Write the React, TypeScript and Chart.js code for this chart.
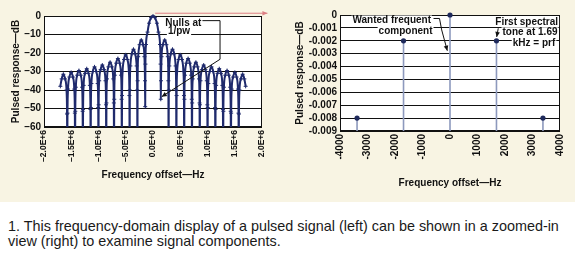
import React, { useEffect, useRef } from 'react';
import { Chart, registerables } from 'chart.js';
Chart.register(...registerables);

const FONT = '"Liberation Sans", Arial, Helvetica, sans-serif';

// ---------- Left chart: pulsed spectrum (kHz, dB) ----------
const spectrumFreqKHz = [
  -1700, -1676, -1645, -1613, -1587, -1577, -1573,
  -1569, -1559, -1533, -1502, -1470, -1444, -1434, -1430,
  -1426, -1416, -1390, -1359, -1327, -1301, -1291, -1287,
  -1283, -1273, -1247, -1216, -1184, -1158, -1148, -1144,
  -1140, -1130, -1104, -1073, -1041, -1015, -1005, -1001,
  -997, -987, -961, -930, -898, -872, -862, -858,
  -854, -844, -818, -787, -755, -729, -719, -715,
  -711, -701, -675, -644, -612, -586, -576, -572,
  -568, -558, -532, -501, -469, -443, -433, -429,
  -425, -415, -389, -358, -326, -300, -290, -286,
  -282, -272, -246, -215, -183, -157, -147, -143,
  -139, -129, -100, -72, -36, 0, 36, 72, 100, 129, 139,
  143,
  147, 157, 183, 215, 246, 272, 282, 286,
  290, 300, 326, 358, 389, 415, 425, 429,
  433, 443, 469, 501, 532, 558, 568, 572,
  576, 586, 612, 644, 675, 701, 711, 715,
  719, 729, 755, 787, 818, 844, 854, 858,
  862, 872, 898, 930, 961, 987, 997, 1001,
  1005, 1015, 1041, 1073, 1104, 1130, 1140, 1144,
  1148, 1158, 1184, 1216, 1247, 1273, 1283, 1287,
  1291, 1301, 1327, 1359, 1390, 1416, 1426, 1430,
  1434, 1444, 1470, 1502, 1533, 1559, 1569, 1573,
  1577, 1587, 1613, 1645, 1676, 1700,
];
const spectrumLevelDb = [
  -38, -34, -31.5, -34, -40, -53, -75,
  -52.5, -39.5, -33, -30.5, -33, -39.5, -52.5, -75,
  -51.5, -38.5, -32, -29.5, -32, -38.5, -51.5, -75,
  -50.5, -37.5, -31, -28.5, -31, -37.5, -50.5, -75,
  -49.5, -36.5, -30, -27.5, -30, -36.5, -49.5, -75,
  -48, -35, -29, -26.5, -29, -35, -48, -75,
  -47, -34, -27.5, -25, -27.5, -34, -47, -75,
  -45, -32, -25.5, -23, -25.5, -32, -45, -75,
  -43, -30, -23.5, -21, -23.5, -30, -43, -75,
  -40, -27, -20.5, -18, -20.5, -27, -40, -75,
  -35, -22, -15.5, -13, -15.5, -22, -35, -49,
  -26, -15.4, -8.7, -3.9, -0.9, 0, -0.9, -3.9, -8.7, -15.4, -26,
  -45,
  -35, -22, -15.5, -13, -15.5, -22, -35, -75,
  -40, -27, -20.5, -18, -20.5, -27, -40, -75,
  -43, -30, -23.5, -21, -23.5, -30, -43, -75,
  -45, -32, -25.5, -23, -25.5, -32, -45, -75,
  -47, -34, -27.5, -25, -27.5, -34, -47, -75,
  -48, -35, -29, -26.5, -29, -35, -48, -75,
  -49.5, -36.5, -30, -27.5, -30, -36.5, -49.5, -75,
  -50.5, -37.5, -31, -28.5, -31, -37.5, -50.5, -75,
  -51.5, -38.5, -32, -29.5, -32, -38.5, -51.5, -75,
  -52.5, -39.5, -33, -30.5, -33, -39.5, -52.5, -75,
  -53, -40, -34, -31.5, -34, -38,
];
const leftXTicks = [-2e6, -1.5e6, -1e6, -5e5, 0, 5e5, 1e6, 1.5e6, 2e6];
const leftXTickLabels = ['–2.0E+6', '–1.5E+6', '–1.0E+6', '–5.0E+5', '0.0E+0', '5.0E+5', '1.0E+6', '1.5E+6', '2.0E+6'];
const leftYTicks = [-60, -50, -40, -30, -20, -10, 0];
const leftYTickLabels = ['–60', '–50', '–40', '–30', '–20', '–10', '0'];

// ---------- Right chart: zoomed-in tones (Hz, dB) ----------
const toneFreqHz = [-3380, -1690, 0, 1690, 3380];
const toneLevelDb = [-0.008, -0.002, 0, -0.002, -0.008];
const rightXTicks = [-4000, -3000, -2000, -1000, 0, 1000, 2000, 3000, 4000];
const rightXTickLabels = ['-4000', '-3000', '-2000', '-1000', '0', '1000', '2000', '3000', '4000'];
const rightYTicks = [-0.009, -0.008, -0.007, -0.006, -0.005, -0.004, -0.003, -0.002, -0.001, 0];
const rightYTickLabels = ['-0.009', '-0.008', '-0.007', '-0.006', '-0.005', '-0.004', '-0.003', '-0.002', '-0.001', '0'];
const rightYMin = -0.009;

const CURVE = '#1f2a6c';
const DOT = '#1f2a5c';
const STEM = '#8d99bd';
const INK = '#111111';
const BEIGE = '#f8f4e3';

type Note = { text: string; x: number; y: number; align: CanvasTextAlign };
type Path = { pts: [number, number][]; arrow: boolean; color?: string };

const leftNotes: Note[] = [
  { text: 'Nulls at', x: 0.556e6, y: -3.4, align: 'center' },
  { text: '1/pw', x: 0.477e6, y: -8.2, align: 'center' },
];
const leftPaths: Path[] = [
  { pts: [[0.9e6, -2.5], [1.23e6, -2.5], [1.23e6, -23.4], [0.16e6, -43.6]], arrow: true },
  { pts: [[0.04e6, 1.5], [2.1e6, 1.5]], arrow: true, color: '#dd7f84' },
];
const rightNotes: Note[] = [
  { text: 'Wanted frequent', x: -691, y: -0.000388, align: 'right' },
  { text: 'component', x: -636, y: -0.00122, align: 'right' },
  { text: 'First spectral', x: 2789, y: -0.00052, align: 'center' },
  { text: 'tone at 1.69', x: 2909, y: -0.0013, align: 'center' },
  { text: 'kHz = prf', x: 3055, y: -0.00215, align: 'center' },
];
const rightPaths: Path[] = [
  { pts: [[-600, -0.00027], [-382, -0.00027], [-302, -0.00116], [-98, -0.00277]], arrow: true },
  { pts: [[1755, -0.00103], [1698, -0.0017]], arrow: true },
];

const plotBg = {
  id: 'plotBg',
  beforeDraw(chart: any) {
    const { ctx, chartArea: a } = chart;
    ctx.save();
    ctx.fillStyle = '#ffffff';
    ctx.fillRect(a.left, a.top, a.right - a.left, a.bottom - a.top);
    ctx.restore();
  },
};
const frame = {
  id: 'frame',
  beforeDatasetsDraw(chart: any) {
    const { ctx, chartArea: a } = chart;
    ctx.save();
    ctx.strokeStyle = INK;
    ctx.lineWidth = 1;
    ctx.strokeRect(a.left + 0.5, a.top + 0.5, a.right - a.left - 1, a.bottom - a.top - 1);
    ctx.restore();
  },
};

function makeNotes(notes: Note[], paths: Path[]) {
  return {
    id: 'notes',
    afterDatasetsDraw(chart: any) {
      const { ctx } = chart;
      const xs = chart.scales.x;
      const ys = chart.scales.y;
      ctx.save();
      for (const p of paths) {
        const c = p.color || INK;
        ctx.strokeStyle = c;
        ctx.fillStyle = c;
        ctx.lineWidth = 1;
        const px = p.pts.map(([a, b]) => [xs.getPixelForValue(a), ys.getPixelForValue(b)]);
        ctx.beginPath();
        px.forEach(([a, b], i) => (i ? ctx.lineTo(a, b) : ctx.moveTo(a, b)));
        ctx.stroke();
        if (p.arrow) {
          const [x1, y1] = px[px.length - 2];
          const [x2, y2] = px[px.length - 1];
          const ang = Math.atan2(y2 - y1, x2 - x1);
          const L = 5, W = 2.3;
          ctx.beginPath();
          ctx.moveTo(x2, y2);
          ctx.lineTo(x2 - L * Math.cos(ang) + W * Math.sin(ang), y2 - L * Math.sin(ang) - W * Math.cos(ang));
          ctx.lineTo(x2 - L * Math.cos(ang) - W * Math.sin(ang), y2 - L * Math.sin(ang) + W * Math.cos(ang));
          ctx.closePath();
          ctx.fill();
        }
      }
      ctx.font = `bold 10px ${FONT}`;
      ctx.textBaseline = 'middle';
      for (const n of notes) {
        const x = xs.getPixelForValue(n.x);
        const y = ys.getPixelForValue(n.y);
        const w = ctx.measureText(n.text).width;
        const x0 = n.align === 'center' ? x - w / 2 : n.align === 'right' ? x - w : x;
        ctx.fillStyle = '#ffffff';
        ctx.fillRect(x0 - 1, y - 4.5, w + 2, 9);
        ctx.fillStyle = INK;
        ctx.textAlign = n.align;
        ctx.fillText(n.text, x, y + 0.5);
      }
      ctx.restore();
    },
  };
}

const tickFont = { family: FONT, size: 10, weight: 'bold' as const };
const titleFont = { family: FONT, size: 10, weight: 'bold' as const };

function LeftChart() {
  const ref = useRef<HTMLCanvasElement>(null);
  useEffect(() => {
    const points = spectrumFreqKHz.map((f, i) => ({ x: f * 1000, y: spectrumLevelDb[i] }));
    const chart = new Chart(ref.current!, {
      type: 'scatter',
      data: {
        datasets: [
          {
            data: points,
            showLine: true,
            borderColor: CURVE,
            borderWidth: 2,
            backgroundColor: CURVE,
            pointStyle: 'cross',
            pointRadius: 2,
            pointBorderWidth: 1,
            pointBorderColor: CURVE,
            cubicInterpolationMode: 'monotone',
            clip: { left: 0, top: 4, right: 0, bottom: 0 } as any,
          },
        ],
      },
      options: {
        animation: false,
        responsive: false,
        devicePixelRatio: 1,
        layout: { padding: { left: 6, top: 16, right: 23, bottom: 0 } },
        plugins: { legend: { display: false }, tooltip: { enabled: false } },
        scales: {
          x: {
            type: 'linear',
            min: -2e6,
            max: 2e6,
            afterBuildTicks: (ax: any) => { ax.ticks = leftXTicks.map((v) => ({ value: v })); },
            afterFit: (ax: any) => { ax.height = 75; },
            ticks: {
              callback: (_v: any, i: number) => leftXTickLabels[i],
              minRotation: 90,
              maxRotation: 90,
              autoSkip: false,
              padding: 3,
              font: { family: FONT, size: 8.5, weight: 'bold' },
              color: INK,
            },
            grid: { display: false, drawTicks: false },
            border: { display: false },
            title: { display: true, text: 'Frequency offset—Hz', font: titleFont, color: INK, padding: { top: 0, bottom: 21 } },
          },
          y: {
            type: 'linear',
            min: -60,
            max: 0,
            afterBuildTicks: (ax: any) => { ax.ticks = leftYTicks.map((v) => ({ value: v })); },
            afterFit: (ax: any) => { ax.width = 38; },
            ticks: {
              callback: (_v: any, i: number) => leftYTickLabels[i],
              autoSkip: false,
              padding: 3,
              font: tickFont,
              color: INK,
            },
            grid: { color: INK, lineWidth: 1, drawTicks: false },
            border: { display: false },
            title: { display: true, text: 'Pulsed response—dB', font: titleFont, color: INK, padding: { top: 4, bottom: 2 } },
          },
        },
      },
      plugins: [plotBg, frame, makeNotes(leftNotes, leftPaths)],
    });
    return () => chart.destroy();
  }, []);
  return <canvas ref={ref} width={285} height={202} style={{ position: 'absolute', left: 0, top: 0, width: 285, height: 202 }} />;
}

function RightChart() {
  const ref = useRef<HTMLCanvasElement>(null);
  useEffect(() => {
    const dots = toneFreqHz.map((f, i) => ({ x: f, y: toneLevelDb[i] }));
    const stems = toneFreqHz.map((f, i) => ({
      data: [{ x: f, y: toneLevelDb[i] }, { x: f, y: rightYMin }],
      showLine: true,
      borderColor: STEM,
      borderWidth: 1.6,
      pointRadius: 0,
      clip: false as any,
    }));
    const chart = new Chart(ref.current!, {
      type: 'scatter',
      data: {
        datasets: [
          {
            data: dots,
            backgroundColor: DOT,
            borderColor: DOT,
            pointRadius: 2.6,
            pointBorderWidth: 0,
            clip: false as any,
          },
          ...stems,
        ],
      },
      options: {
        animation: false,
        responsive: false,
        devicePixelRatio: 1,
        layout: { padding: { left: 5, top: 15, right: 15, bottom: 0 } },
        plugins: { legend: { display: false }, tooltip: { enabled: false } },
        scales: {
          x: {
            type: 'linear',
            min: -4000,
            max: 4000,
            afterBuildTicks: (ax: any) => { ax.ticks = rightXTicks.map((v) => ({ value: v })); },
            afterFit: (ax: any) => { ax.height = 71; },
            ticks: {
              callback: (_v: any, i: number) => rightXTickLabels[i],
              minRotation: 90,
              maxRotation: 90,
              autoSkip: false,
              padding: 3,
              font: tickFont,
              color: INK,
            },
            grid: { display: false, drawTicks: false },
            border: { display: false },
            title: { display: true, text: 'Frequency offset—Hz', font: titleFont, color: INK, padding: { top: 0, bottom: 13 } },
          },
          y: {
            type: 'linear',
            min: -0.009,
            max: 0,
            afterBuildTicks: (ax: any) => { ax.ticks = rightYTicks.map((v) => ({ value: v })); },
            afterFit: (ax: any) => { ax.width = 50; },
            ticks: {
              callback: (_v: any, i: number) => rightYTickLabels[i],
              autoSkip: false,
              padding: 3,
              font: tickFont,
              color: INK,
            },
            grid: { color: INK, lineWidth: 1, drawTicks: false },
            border: { display: false },
            title: { display: true, text: 'Pulsed response—dB', font: titleFont, color: INK, padding: { top: 4, bottom: 2 } },
          },
        },
      },
      plugins: [plotBg, frame, makeNotes(rightNotes, rightPaths)],
    });
    return () => chart.destroy();
  }, []);
  return <canvas ref={ref} width={290} height={202} style={{ position: 'absolute', left: 285, top: 0, width: 290, height: 202 }} />;
}

export default function App() {
  useEffect(() => {
    document.body.style.margin = '0';
    document.body.style.background = '#ffffff';
  }, []);
  return (
    <div style={{ position: 'relative', width: 575, height: 276, background: '#ffffff', overflow: 'hidden' }}>
      <div style={{ position: 'absolute', left: 0, top: 0, width: 575, height: 202, background: BEIGE }} />
      <LeftChart />
      <RightChart />
      <div
        style={{
          position: 'absolute',
          left: 8,
          top: 219,
          width: 567,
          fontFamily: FONT,
          fontSize: 14.4,
          lineHeight: '15px',
          color: '#1a1a1a',
          whiteSpace: 'nowrap',
        }}
      >
        1. This frequency-domain display of a pulsed signal (left) can be shown in a zoomed-in
        <br />
        view (right) to examine signal components.
      </div>
    </div>
  );
}
